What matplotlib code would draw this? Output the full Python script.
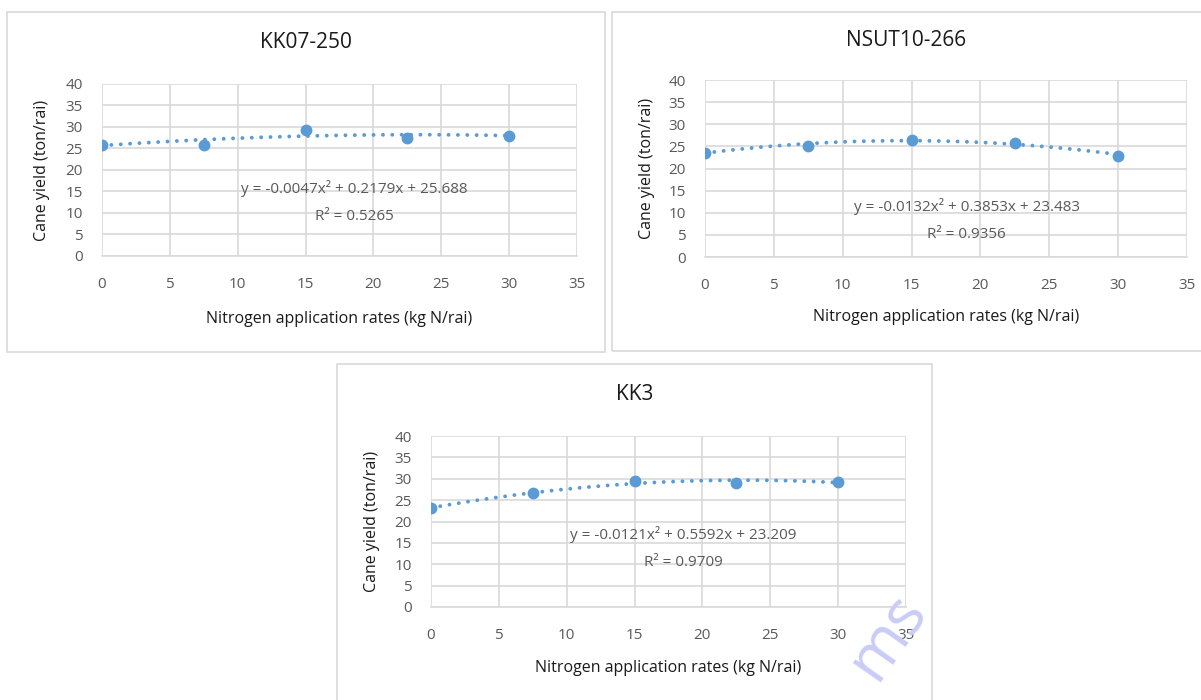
import numpy as np
import matplotlib
matplotlib.use('Agg')
import matplotlib.pyplot as plt
from matplotlib.patches import Rectangle

plt.rcParams['font.family'] = ['Open Sans', 'DejaVu Sans']

# nitrogen rates (kg N/rai)
rates = [0, 7.5, 15, 22.5, 30]

titles = ['KK07-250', 'NSUT10-266', 'KK3']

# cane yield (ton/rai)
yield_kk07 = [25.9, 25.9, 29.3, 27.4, 28.0]
yield_nsut = [23.6, 25.0, 26.4, 25.7, 22.9]
yield_kk3 = [23.1, 26.6, 29.5, 29.0, 29.3]

# quadratic trendline coefficients (a, b, c) as printed on the chart
coef_kk07 = [-0.0047, 0.2179, 25.688]
coef_nsut = [-0.0132, 0.3853, 23.483]
coef_kk3 = [-0.0121, 0.5592, 23.209]

r2_values = [0.5265, 0.9356, 0.9709]

blue = '#5B9BD5'
grid = '#D9D9D9'

W, H = 1201, 700
fig = plt.figure(figsize=(W / 100, H / 100), dpi=100)


def px_box(x0, y0, x1, y1):
    """pixel box (top-left origin) -> figure fraction [l, b, w, h]"""
    return [x0 / W, 1 - y1 / H, (x1 - x0) / W, (y1 - y0) / H]


# outer frames around each chart
frames = [(7, 12, 605, 352), (612, 12, 1205, 351), (337, 364, 932, 704)]
for x0, y0, x1, y1 in frames:
    l, b, w, h = px_box(x0, y0, x1, y1)
    fig.patches.append(Rectangle((l, b), w, h, transform=fig.transFigure,
                                 fill=False, edgecolor=grid, linewidth=1.2))

# plot areas
plot_boxes = [(102, 84, 577, 256), (705, 80, 1187, 257), (431, 436, 906, 607)]
# title y, x-label y, y-label x (pixels)
title_pos = [43, 40, 395]
xlab_y = [319, 317, 668]
ylab_x = [42, 647, 372]
# equation text position in data coords
eq_pos = [(18.6, 15.8, 9.3), (19.0, 11.3, 5.0), (18.6, 16.9, 10.4)]

yields = [yield_kk07, yield_nsut, yield_kk3]
coefs = [coef_kk07, coef_nsut, coef_kk3]

for i in range(3):
    ax = fig.add_axes(px_box(*plot_boxes[i]))
    ax.set_xlim(0, 35)
    ax.set_ylim(0, 40)
    ax.set_xticks(range(0, 36, 5))
    ax.set_yticks(range(0, 41, 5))
    ax.grid(True, color=grid, linewidth=1.2)
    ax.set_axisbelow(True)
    for s in ['top', 'right', 'left']:
        ax.spines[s].set_visible(False)
    ax.spines['bottom'].set_color(grid)
    ax.spines['bottom'].set_linewidth(1.2)
    ax.tick_params(length=0, labelsize=11, labelcolor='#595959')
    ax.tick_params(axis='x', pad=15)
    ax.tick_params(axis='y', pad=14)

    xs = np.linspace(0, 30, 300)
    a, b, c = coefs[i]
    ax.plot(xs, a * xs ** 2 + b * xs + c, color=blue, linewidth=2.8,
            linestyle=(0, (0.01, 2.4)), dash_capstyle='round', zorder=2)
    ax.plot(rates, yields[i], 'o', color=blue, markersize=7.5, zorder=3)

    ex, ey, ry = eq_pos[i]
    eq = 'y = %.4fx² + %.4fx + %.3f' % (a, b, c)
    ax.text(ex, ey, eq, ha='center', va='center', fontsize=11, color='#595959')
    ax.text(ex, ry, 'R² = %.4f' % r2_values[i], ha='center', va='center',
            fontsize=11, color='#595959')

    x0, y0, x1, y1 = plot_boxes[i]
    fr = frames[i]
    cx = (fr[0] + min(fr[2], W)) / 2
    fig.text(cx / W, 1 - title_pos[i] / H, titles[i], ha='center', va='center',
             fontsize=15, color='#1a1a1a')
    fig.text((x0 + x1) / 2 / W, 1 - xlab_y[i] / H,
             'Nitrogen application rates (kg N/rai)', ha='center', va='center',
             fontsize=11.5, color='#1a1a1a')
    fig.text(ylab_x[i] / W, 1 - (y0 + y1) / 2 / H, 'Cane yield (ton/rai)',
             ha='center', va='center', rotation=90, fontsize=11.5, color='#1a1a1a')

# watermark
fig.text(888 / W, 1 - 636 / H, 'ms', ha='center', va='center', rotation=55,
         fontsize=46, color='#C9CCF6', zorder=10)

fig.savefig('out.png', dpi=100)
